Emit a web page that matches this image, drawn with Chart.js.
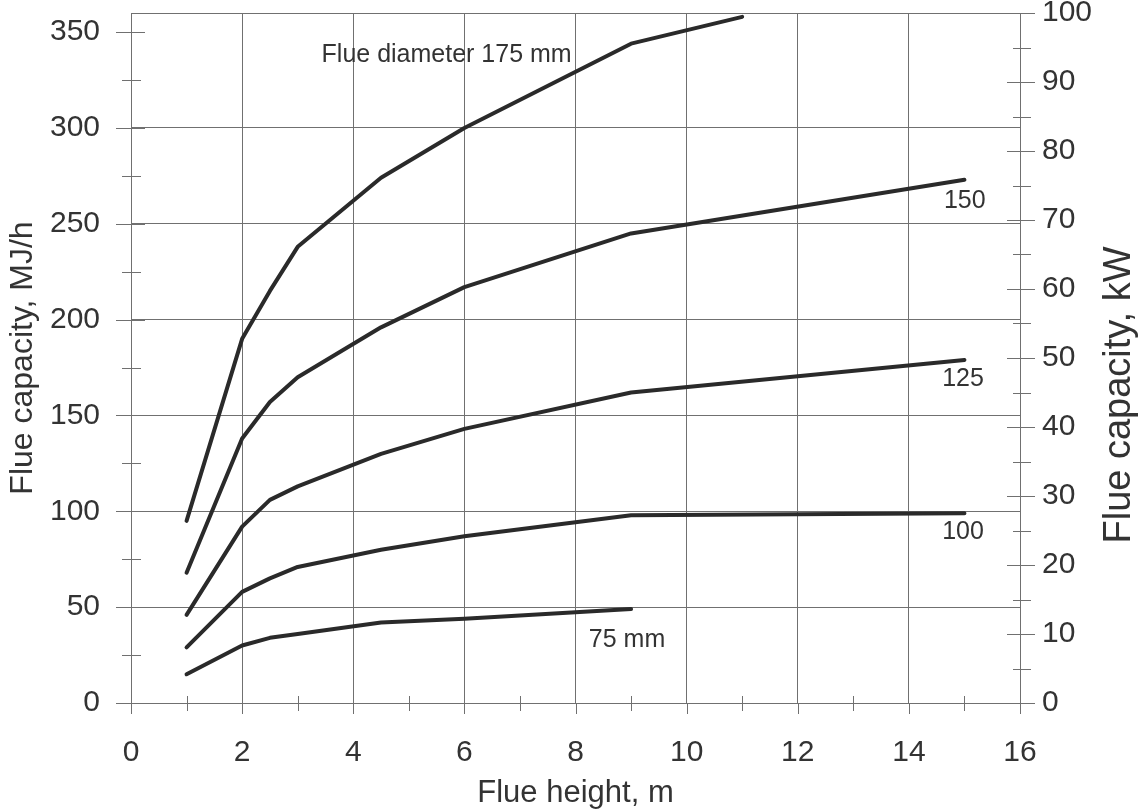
<!DOCTYPE html>
<html>
<head>
<meta charset="utf-8">
<script src="https://cdn.jsdelivr.net/npm/chart.js@4.4.1/dist/chart.umd.min.js"></script>
<style>
    body { margin: 0; background: #fff; }
    canvas { display: block; }
</style>
</head>
<body>
<canvas id="grafica" width="1145" height="812"></canvas>
<script>
// =========================
// DATOS
// =========================
const alturas = [1, 2, 2.5, 3, 4.5, 6, 9, 15];
const alturas175 = [1, 2, 2.5, 3, 4.5, 6, 9, 11];
const alturas75 = [1, 2, 2.5, 3, 4.5, 6, 9];

const cap175 = [95, 190, 215, 238, 274, 300, 344, 358];
const cap150 = [68, 138, 157, 170, 196, 217, 245, 273];
const cap125 = [46, 92, 106, 113, 130, 143, 162, 179];
const cap100 = [29, 58, 65, 71, 80, 87, 98, 99];
const cap75 = [15, 30, 34, 36, 42, 44, 49];

const xTicks = [0, 2, 4, 6, 8, 10, 12, 14, 16];

const etiquetas = [
    { texto: "Flue diameter 175 mm", x: 3.43, y: 338 },
    { texto: "150", x: 14.63, y: 262 },
    { texto: "125", x: 14.6, y: 169 },
    { texto: "100", x: 14.6, y: 89 },
    { texto: "75 mm", x: 8.24, y: 33 }
];

const FUENTE = '"Liberation Sans", Arial, sans-serif';
const GRIS = "#707070";
const TEXTO = "#333";
const LINEA = "#2a2a2a";

function puntos(xs, ys) {
    return ys.map((v, i) => ({ x: xs[i], y: v }));
}

function serie(xs, ys) {
    return {
        data: puntos(xs, ys),
        borderColor: LINEA,
        borderWidth: 4,
        borderCapStyle: "round",
        borderJoinStyle: "round",
        pointRadius: 0,
        tension: 0,
        yAxisID: "y"
    };
}

// sin márgenes extra para las etiquetas de los extremos
function ajustarVertical(ancho) {
    return s => { s.width = ancho; s.paddingTop = 0; s.paddingBottom = 0; };
}

// =========================
// MARCAS Y TEXTOS EXTRA
// =========================
const extras = {
    id: "extras",
    beforeDatasetsDraw(chart) {
        const { ctx, chartArea: a, scales } = chart;
        ctx.save();
        ctx.strokeStyle = GRIS;
        ctx.lineWidth = 1;
        ctx.beginPath();
        // borde superior
        ctx.moveTo(a.left, a.top + 0.5);
        ctx.lineTo(a.right, a.top + 0.5);
        // eje izquierdo
        for (let v = 0; v <= 350; v += 25) {
            const y = Math.round(scales.y.getPixelForValue(v)) + 0.5;
            const mayor = v % 50 === 0;
            ctx.moveTo(a.left - (mayor ? 15 : 9), y);
            ctx.lineTo(a.left + (mayor ? 14 : 10), y);
        }
        // eje derecho (kW)
        for (let k = 0; k <= 100; k += 5) {
            const y = Math.round(scales.y2.getPixelForValue(k)) + 0.5;
            const mayor = k % 10 === 0;
            ctx.moveTo(a.right - (mayor ? 13 : 7), y);
            ctx.lineTo(a.right + (mayor ? 15 : 11), y);
        }
        // eje x
        for (let h = 0; h <= 16; h++) {
            const x = Math.round(scales.x.getPixelForValue(h)) + 0.5;
            if (h % 2 === 0) {
                ctx.moveTo(x, a.bottom);
                ctx.lineTo(x, a.bottom + 11);
            } else {
                ctx.moveTo(x, a.bottom - 7);
                ctx.lineTo(x, a.bottom + 8);
            }
        }
        ctx.stroke();
        ctx.restore();
    },
    afterDraw(chart) {
        const { ctx, scales } = chart;
        ctx.save();
        ctx.fillStyle = TEXTO;
        ctx.font = "25px " + FUENTE;
        ctx.textAlign = "left";
        ctx.textBaseline = "middle";
        etiquetas.forEach(e => {
            ctx.fillText(e.texto, scales.x.getPixelForValue(e.x), scales.y.getPixelForValue(e.y));
        });
        // título del eje derecho, leído de abajo arriba
        ctx.translate(1130, 395);
        ctx.rotate(-Math.PI / 2);
        ctx.font = "38px " + FUENTE;
        ctx.textAlign = "center";
        ctx.textBaseline = "alphabetic";
        ctx.fillText("Flue capacity, kW", 0, 0);
        ctx.restore();
    }
};

// =========================
// GRÁFICA
// =========================
const ctx = document.getElementById("grafica").getContext("2d");

new Chart(ctx, {
    type: "line",
    data: {
        datasets: [
            serie(alturas175, cap175),
            serie(alturas, cap150),
            serie(alturas, cap125),
            serie(alturas, cap100),
            serie(alturas75, cap75)
        ]
    },
    options: {
        responsive: false,
        animation: false,
        layout: { padding: { top: 13, left: 0, right: 0, bottom: 0 } },
        plugins: { legend: { display: false }, tooltip: { enabled: false } },
        scales: {
            x: {
                type: "linear",
                min: 0,
                max: 16,
                afterBuildTicks: s => { s.ticks = xTicks.map(v => ({ value: v })); },
                afterFit: s => { s.height = 109; s.paddingLeft = 0; s.paddingRight = 0; },
                ticks: { color: TEXTO, font: { family: FUENTE, size: 30 }, padding: 20, maxRotation: 0 },
                grid: { color: GRIS, lineWidth: 1, tickLength: 12, tickColor: "transparent" },
                border: { display: true, color: GRIS, width: 1 },
                title: {
                    display: true,
                    text: "Flue height, m",
                    color: TEXTO,
                    font: { family: FUENTE, size: 31 },
                    padding: { top: 0, bottom: 0 }
                }
            },
            y: {
                position: "left",
                min: 0,
                max: 360,
                afterFit: ajustarVertical(131),
                ticks: { stepSize: 50, includeBounds: false, color: TEXTO, font: { family: FUENTE, size: 30 }, padding: 16 },
                grid: {
                    color: c => (c.tick && c.tick.value >= 350) ? "transparent" : GRIS,
                    lineWidth: 1,
                    tickLength: 15,
                    tickColor: "transparent"
                },
                border: { display: true, color: GRIS, width: 1 },
                title: {
                    display: true,
                    text: "Flue capacity, MJ/h",
                    color: TEXTO,
                    font: { family: FUENTE, size: 32 },
                    padding: { top: 4, bottom: 0 }
                }
            },
            y2: {
                position: "right",
                min: 0,
                max: 100,
                afterFit: ajustarVertical(125),
                ticks: { stepSize: 10, color: TEXTO, font: { family: FUENTE, size: 30 }, padding: 12 },
                grid: { drawOnChartArea: false, tickLength: 10, tickColor: "transparent" },
                border: { display: true, color: GRIS, width: 1 }
            }
        }
    },
    plugins: [extras]
});
</script>
</body>
</html>
